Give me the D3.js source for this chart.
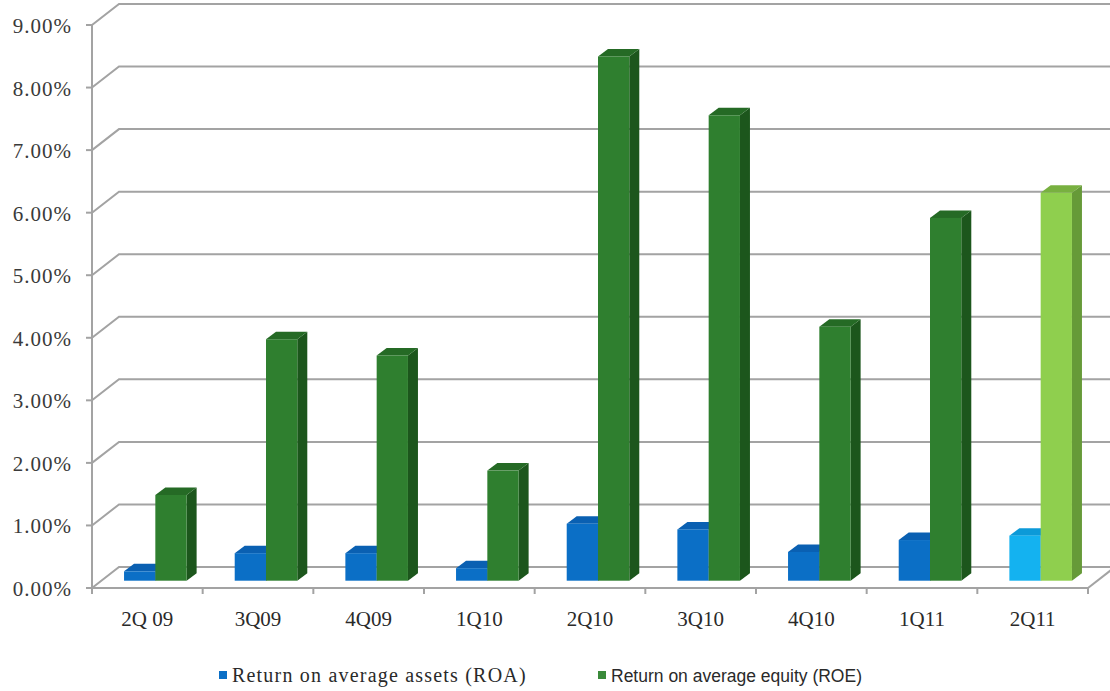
<!DOCTYPE html>
<html>
<head>
<meta charset="utf-8">
<script src="https://cdn.jsdelivr.net/npm/d3@7/dist/d3.min.js"></script>
<style>
  html, body { margin: 0; padding: 0; background: #ffffff; }
  svg { display: block; }
</style>
</head>
<body>
<svg id="chart" width="1110" height="691"></svg>
<script>
// Quarterly returns, in percent
const quarters = ["2Q 09", "3Q09", "4Q09", "1Q10", "2Q10", "3Q10", "4Q10", "1Q11", "2Q11"];
const roa = [0.15, 0.44, 0.44, 0.20, 0.91, 0.82, 0.46, 0.65, 0.72];
const roe = [1.37, 3.86, 3.60, 1.76, 8.38, 7.44, 4.06, 5.80, 6.20];
const seriesNames = ["Return on average assets (ROA)", "Return on average equity (ROE)"];
const yTicks = [0, 1, 2, 3, 4, 5, 6, 7, 8, 9];

const svg = d3.select("#chart");

// Oblique 3D frame: front plane, bar plane and back wall offsets
const front = { left: 92, right: 1088, bottom: 588, top: 25 };
const wall = { dx: 27, dy: -21 };     // back wall offset from the front plane
const barPlane = { dx: 8, dy: -7.3 }; // front face of the columns
const barDepth = { dx: 10, dy: -7.5 };// depth of each column

const y = d3.scaleLinear().domain([0, 9]).range([front.bottom, front.top]);
const x = d3.scaleBand().domain(quarters).range([front.left, front.right])
  .paddingInner(0.4345).paddingOuter(0.21725);
const xs = d3.scaleBand().domain([0, 1]).range([0, x.bandwidth()]);
const xEdge = d3.scalePoint().domain(d3.range(quarters.length + 1)).range([front.left, front.right]);

const grid = "#a3a3a3";

// back wall gridlines and side wall diagonals
const gGrid = svg.append("g").attr("stroke", grid).attr("stroke-width", 2).attr("fill", "none");
yTicks.forEach(t => {
  const yf = y(t);
  gGrid.append("path")
    .attr("d", `M${front.left},${yf}L${front.left + wall.dx},${yf + wall.dy}L${front.right + wall.dx},${yf + wall.dy}`);
});
// floor right edge
gGrid.append("line")
  .attr("x1", front.right).attr("y1", y(0))
  .attr("x2", front.right + wall.dx).attr("y2", y(0) + wall.dy);

// y axis line + ticks
const gAxis = svg.append("g").attr("stroke", grid).attr("stroke-width", 2);
gAxis.append("line").attr("x1", front.left).attr("x2", front.left)
  .attr("y1", y(9)).attr("y2", y(0));
yTicks.forEach(t => {
  gAxis.append("line").attr("x1", front.left - 6).attr("x2", front.left)
    .attr("y1", y(t)).attr("y2", y(t));
});
// x axis line + category edge ticks
gAxis.append("line").attr("x1", front.left).attr("x2", front.right)
  .attr("y1", y(0)).attr("y2", y(0));
xEdge.domain().forEach(i => {
  gAxis.append("line").attr("x1", xEdge(i)).attr("x2", xEdge(i))
    .attr("y1", y(0)).attr("y2", y(0) + 6);
});

// column colours: [front, side, top]
const palette = [
  { front: "#0b6fc6", side: "#0757a0", top: "#0a60b2" },
  { front: "#2f7f2f", side: "#1c561c", top: "#256a25" }
];
const highlight = [
  { front: "#14b2f0", side: "#0a8cc4", top: "#0c9ad8" },
  { front: "#8fcf4e", side: "#669a38", top: "#78b040" }
];

function drawColumn(g, x0, w, v, c) {
  const base = y(0) + barPlane.dy;
  const top = y(v) + barPlane.dy;
  const dx = barDepth.dx, dy = barDepth.dy;
  g.append("path").attr("fill", c.side)
    .attr("d", `M${x0 + w},${top}L${x0 + w + dx},${top + dy}L${x0 + w + dx},${base + dy}L${x0 + w},${base}Z`);
  g.append("path").attr("fill", c.top)
    .attr("d", `M${x0},${top}L${x0 + dx},${top + dy}L${x0 + w + dx},${top + dy}L${x0 + w},${top}Z`);
  g.append("rect").attr("fill", c.front)
    .attr("x", x0).attr("y", top).attr("width", w).attr("height", base - top);
}

const gBars = svg.append("g");
quarters.forEach((q, i) => {
  const last = i === quarters.length - 1;
  [roa[i], roe[i]].forEach((v, s) => {
    const c = last ? highlight[s] : palette[s];
    drawColumn(gBars, x(q) + xs(s) + barPlane.dx, xs.bandwidth(), v, c);
  });
});

// tick labels
const gYL = svg.append("g")
  .attr("font-family", "'Liberation Serif', 'Times New Roman', serif")
  .attr("font-size", 21).attr("fill", "#3a3a3a").attr("letter-spacing", "1px");
yTicks.forEach(t => {
  gYL.append("text").attr("x", 72).attr("y", y(t) + 8)
    .attr("text-anchor", "end").text(t.toFixed(2) + "%");
});

const gXL = svg.append("g")
  .attr("font-family", "'Liberation Serif', 'Times New Roman', serif")
  .attr("font-size", 21).attr("fill", "#2a2a2a");
quarters.forEach(q => {
  gXL.append("text").attr("x", x(q) + x.bandwidth() / 2).attr("y", 626)
    .attr("text-anchor", "middle").text(q);
});

// legend
const legend = [
  { x: 219, color: palette[0].front, font: "'Liberation Serif', 'Times New Roman', serif", size: 20, ls: "1.2px" },
  { x: 598, color: "#3a8a3a", font: "'Liberation Sans', Arial, sans-serif", size: 17.5, ls: "0px" }
];
legend.forEach((l, i) => {
  svg.append("rect").attr("x", l.x).attr("y", 671).attr("width", 8).attr("height", 8).attr("fill", l.color);
  svg.append("text").attr("x", l.x + 13).attr("y", 682)
    .attr("font-family", l.font).attr("font-size", l.size).attr("letter-spacing", l.ls)
    .attr("fill", "#2a2a2a").text(seriesNames[i]);
});
</script>
</body>
</html>
